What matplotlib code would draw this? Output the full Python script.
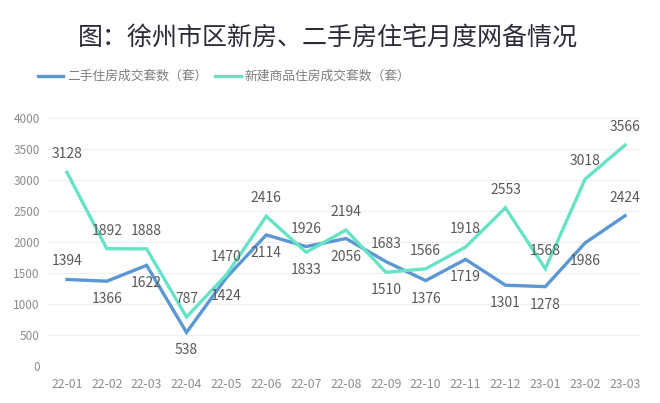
import numpy as np
import matplotlib.pyplot as plt

plt.rcParams['font.family'] = ['Noto Sans CJK SC', 'DejaVu Sans']

months = ['22-01', '22-02', '22-03', '22-04', '22-05', '22-06', '22-07', '22-08',
          '22-09', '22-10', '22-11', '22-12', '23-01', '23-02', '23-03']
second_hand = [1394, 1366, 1622, 538, 1424, 2114, 1926, 2056,
               1683, 1376, 1719, 1301, 1278, 1986, 2424]
new_homes = [3128, 1892, 1888, 787, 1470, 2416, 1833, 2194,
             1510, 1566, 1918, 2553, 1568, 3018, 3566]

# label side: 1 = above the point, -1 = below
side_second = [1, -1, -1, -1, -1, -1, 1, -1, 1, -1, -1, -1, -1, -1, 1]
side_new = [1, 1, 1, 1, 1, 1, -1, 1, -1, 1, 1, 1, 1, 1, 1]

blue = '#5b97d3'
green = '#66e3c6'

fig = plt.figure(figsize=(6.6, 4.03), dpi=100)
ax = fig.add_axes([0.073, 0.0926, 0.897, 0.6139])
x = np.arange(len(months))

ax.plot(x, second_hand, color=blue, lw=2.4, label='二手住房成交套数（套）', solid_joinstyle='miter')
ax.plot(x, new_homes, color=green, lw=2.4, label='新建商品住房成交套数（套）', solid_joinstyle='miter')

for xi, v, s in zip(x, second_hand, side_second):
    ax.annotate(str(v), (xi, v), xytext=(0, 13 * s), textcoords='offset points',
                ha='center', va='center', fontsize=10, color='#595959')
for xi, v, s in zip(x, new_homes, side_new):
    ax.annotate(str(v), (xi, v), xytext=(0, 13 * s), textcoords='offset points',
                ha='center', va='center', fontsize=10, color='#595959')

ax.set_ylim(0, 4000)
ax.set_xlim(-0.47, 14.38)
ax.set_yticks(range(0, 4001, 500))
ax.set_xticks(x)
ax.set_xticklabels(months)
ax.tick_params(length=0, colors='#8c8c8c')
ax.tick_params(axis='y', labelsize=8.5, pad=6)
ax.tick_params(axis='x', labelsize=8.8, pad=9)
ax.grid(axis='y', color='#efefef', lw=0.8)
ax.set_axisbelow(True)
for sp in ax.spines.values():
    sp.set_visible(False)

fig.text(0.497, 0.905, '图：徐州市区新房、二手房住宅月度网备情况', ha='center', va='center',
         fontsize=18, color='#2b2b3a')
fig.legend(loc='center left', bbox_to_anchor=(0.04, 0.81), ncol=2, frameon=False,
           fontsize=9.2, labelcolor='#7f7f7f', handlelength=2.0, handletextpad=0.3,
           columnspacing=0.6)

plt.savefig('out.png', dpi=100)
